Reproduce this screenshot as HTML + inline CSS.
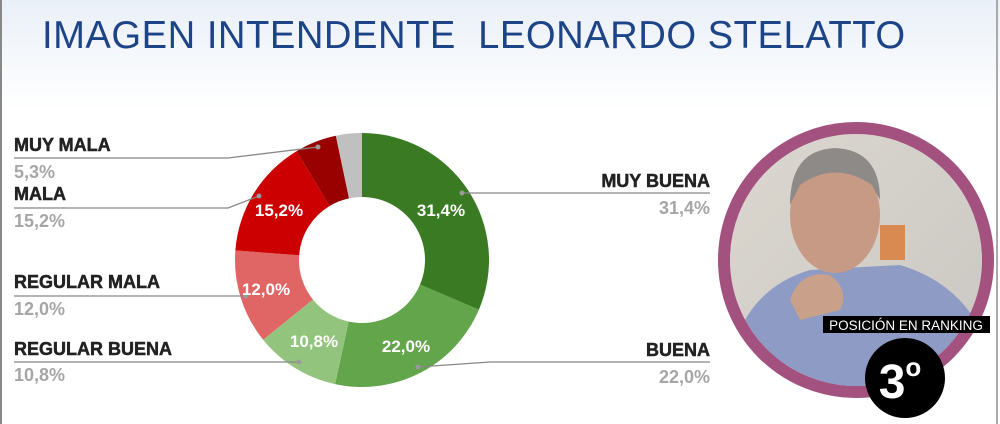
<!DOCTYPE html>
<html><head><meta charset="utf-8"><style>
html,body{margin:0;padding:0}
body{width:1000px;height:424px;overflow:hidden;background:#fff;position:relative;font-family:"Liberation Sans",sans-serif}
.bg{position:absolute;left:0;top:0;width:1000px;height:110px;background:linear-gradient(#eaf0f8,#fff)}
.title{position:absolute;left:42px;top:14px;font-size:39px;color:#1e4488;transform:scaleX(0.98);transform-origin:left top;white-space:nowrap;letter-spacing:0.5px}
.border{position:absolute;left:0;top:0;width:998px;height:424px;border-left:2px solid #888;border-right:2px solid #aaa;box-sizing:border-box}
</style></head><body>
<div class="bg"></div>
<div class="title">IMAGEN INTENDENTE&nbsp; LEONARDO STELATTO</div>
<svg width="1000" height="424" style="position:absolute;left:0;top:0" id="s">
<g id="donut"></g>
<g fill="none" stroke="#888" stroke-width="1.3">
<polyline points="14,158 228,158 318,147"/>
<polyline points="14,208 228,208 259,196"/>
<polyline points="14,296 246,296"/>
<polyline points="14,362 299,362"/>
<polyline points="462,193 490,193 710,193"/>
<polyline points="418,367 490,362 710,362"/>
</g>
<g fill="#999"><circle cx="318" cy="147" r="2.5"/><circle cx="259" cy="196" r="2.5"/><circle cx="246" cy="296" r="2.5"/><circle cx="299" cy="362" r="2.5"/><circle cx="462" cy="193" r="2.5"/><circle cx="418" cy="367" r="2.5"/></g>
<g font-family="Liberation Sans,sans-serif" font-weight="bold" font-size="18">
<g fill="#222" stroke="#222" stroke-width="0.5"><text x="14" y="151">MUY MALA</text><text x="14" y="200">MALA</text><text x="14" y="288">REGULAR MALA</text><text x="14" y="355">REGULAR BUENA</text>
<text x="710" y="187" text-anchor="end">MUY BUENA</text><text x="710" y="356" text-anchor="end">BUENA</text></g>
<g fill="#a6a6a6"><text x="14" y="178">5,3%</text><text x="14" y="227">15,2%</text><text x="14" y="315">12,0%</text><text x="14" y="381">10,8%</text>
<text x="710" y="214" text-anchor="end">31,4%</text><text x="710" y="383" text-anchor="end">22,0%</text></g>
<g fill="#fff" font-size="17"><text x="441" y="216" text-anchor="middle">31,4%</text><text x="406" y="352" text-anchor="middle">22,0%</text><text x="314" y="347" text-anchor="middle">10,8%</text><text x="266" y="295" text-anchor="middle">12,0%</text><text x="279" y="216" text-anchor="middle">15,2%</text></g>
</g>
<defs><clipPath id="cp"><circle cx="856" cy="260" r="126"/></clipPath>
<linearGradient id="wall" x1="0" y1="0" x2="1" y2="1"><stop offset="0" stop-color="#dcd8d0"/><stop offset="1" stop-color="#c9c6c2"/></linearGradient></defs>
<g clip-path="url(#cp)">
<rect x="720" y="120" width="280" height="280" fill="url(#wall)"/>
<rect x="880" y="225" width="25" height="35" fill="#d98a50"/>
<path d="M740 330 Q760 285 810 270 L900 265 Q950 280 975 320 L990 400 L730 400Z" fill="#8e9bc4"/>
<ellipse cx="835" cy="215" rx="45" ry="58" fill="#c79a85"/>
<path d="M790 205 Q790 150 835 148 Q880 150 880 200 L872 185 Q835 160 800 185Z" fill="#8d8a88"/>
<path d="M790 300 Q800 270 830 275 Q850 290 840 310 L800 320Z" fill="#c9a08a"/>
</g>
<circle cx="856" cy="260" r="132" fill="none" stroke="#a3517f" stroke-width="12"/>
<rect x="823" y="316" width="167" height="17" fill="#000"/>
<text x="906" y="330" fill="#fff" font-size="13.5" text-anchor="middle" font-family="Liberation Sans,sans-serif">POSICIÓN EN RANKING</text>
<circle cx="905" cy="378" r="40" fill="#000"/>
<text x="900" y="398" fill="#fff" font-size="48" font-weight="bold" text-anchor="middle" font-family="Liberation Sans,sans-serif">3<tspan font-size="26" dy="-22">o</tspan></text>
</svg>
<div class="border"></div>
<script>
var d=[[31.4,'#3a7a22'],[22.0,'#62a54a'],[10.8,'#93c47d'],[12.0,'#e06666'],[15.2,'#cc0000'],[5.3,'#990000'],[3.3,'#c0c0c0']];
var cx=362,cy=260,R=127,r=63,a=0,g=document.getElementById('donut'),h='';
function p(rad,ang){return [cx+rad*Math.sin(ang),cy-rad*Math.cos(ang)];}
d.forEach(function(s){var a0=a/100*2*Math.PI;a+=s[0];var a1=a/100*2*Math.PI;var l=(a1-a0)>Math.PI?1:0;
var A=p(R,a0),B=p(R,a1),C=p(r,a1),D=p(r,a0);
h+='<path fill="'+s[1]+'" d="M'+A+' A'+R+','+R+' 0 '+l+' 1 '+B+' L'+C+' A'+r+','+r+' 0 '+l+' 0 '+D+'Z"/>';});
g.innerHTML=h;
</script>
</body></html>
